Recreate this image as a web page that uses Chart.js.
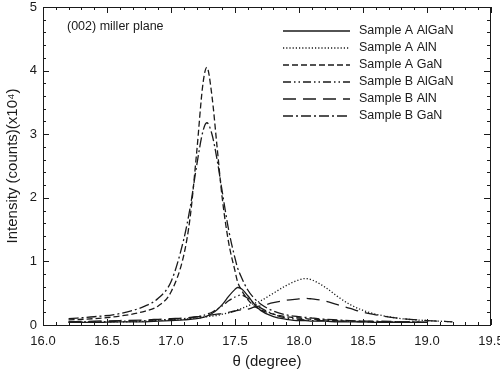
<!DOCTYPE html>
<html>
<head>
<meta charset="utf-8">
<script src="https://cdn.jsdelivr.net/npm/chart.js@4.4.1/dist/chart.umd.min.js"></script>
<style>
  html, body { margin: 0; padding: 0; background: #fff; }
  #wrap { width: 500px; height: 377px; }
</style>
</head>
<body>
<div id="wrap"><canvas id="chart"></canvas></div>
<script>
// theta grid (degree) shared by all series
const theta = [16.2, 16.4, 16.6, 16.8, 16.9, 17.0, 17.1, 17.15, 17.2, 17.25, 17.28, 17.32, 17.36, 17.4, 17.45, 17.5, 17.52, 17.55, 17.6, 17.65, 17.7, 17.8, 17.9, 18.0, 18.05, 18.1, 18.2, 18.3, 18.4, 18.5, 18.6, 18.8, 19.0, 19.2];

// intensity (x10^4 counts)
const sampleA_AlGaN = [0.04, 0.04, 0.05, 0.05, 0.06, 0.07, 0.08, 0.09, 0.1, 0.12, 0.14, 0.18, 0.24, 0.32, 0.45, 0.56, 0.59, 0.57, 0.46, 0.33, 0.23, 0.13, 0.09, 0.07, 0.07, 0.06, 0.06, 0.05, 0.05, 0.05, 0.04, 0.04, 0.04, null];
const sampleA_AlN = [0.04, 0.05, 0.05, 0.06, 0.07, 0.08, 0.09, 0.1, 0.11, 0.12, 0.13, 0.14, 0.15, 0.17, 0.19, 0.22, 0.24, 0.26, 0.3, 0.34, 0.38, 0.5, 0.62, 0.71, 0.73, 0.71, 0.6, 0.45, 0.32, 0.23, 0.17, 0.1, 0.07, 0.05];
const sampleA_GaN = [0.08, 0.1, 0.14, 0.22, 0.3, 0.52, 1.1, 1.7, 2.7, 3.8, 4.05, 3.6, 2.8, 2.0, 1.3, 0.85, 0.68, 0.55, 0.4, 0.3, 0.24, 0.17, 0.13, 0.11, 0.1, 0.09, 0.08, 0.07, 0.06, 0.06, 0.05, 0.05, 0.04, null];
const sampleB_AlGaN = [0.05, 0.05, 0.06, 0.07, 0.08, 0.09, 0.1, 0.11, 0.13, 0.15, 0.17, 0.2, 0.25, 0.3, 0.38, 0.44, 0.46, 0.47, 0.42, 0.34, 0.27, 0.17, 0.11, 0.09, 0.08, 0.07, 0.07, 0.06, 0.06, 0.05, 0.05, 0.05, 0.04, null];
const sampleB_AlN = [0.05, 0.06, 0.07, 0.08, 0.09, 0.1, 0.11, 0.12, 0.13, 0.14, 0.15, 0.16, 0.17, 0.18, 0.2, 0.22, 0.23, 0.24, 0.25, 0.28, 0.3, 0.35, 0.39, 0.41, 0.42, 0.41, 0.38, 0.32, 0.26, 0.2, 0.16, 0.1, 0.07, 0.05];
const sampleB_GaN = [0.1, 0.13, 0.18, 0.3, 0.42, 0.68, 1.35, 1.85, 2.5, 3.05, 3.18, 3.0, 2.6, 2.1, 1.5, 1.05, 0.9, 0.75, 0.55, 0.42, 0.33, 0.22, 0.16, 0.13, 0.12, 0.11, 0.09, 0.08, 0.07, 0.06, 0.06, 0.05, 0.04, null];

const seriesNames = ["Sample A AlGaN", "Sample A AlN", "Sample A GaN", "Sample B AlGaN", "Sample B AlN", "Sample B GaN"];
const seriesValues = [sampleA_AlGaN, sampleA_AlN, sampleA_GaN, sampleB_AlGaN, sampleB_AlN, sampleB_GaN];
const dashes = [[], [1.2, 2], [6, 3], [8, 3, 1.5, 3, 1.5, 3], [13, 7], [10, 3, 2, 3]];

const ink = "#1a1a1a";

const datasets = seriesNames.map((name, i) => ({
  label: name,
  data: theta.map((t, j) => ({ x: t, y: seriesValues[i][j] })),
  borderColor: ink,
  borderWidth: 1.3,
  borderDash: dashes[i],
  pointRadius: 0,
  fill: false,
  cubicInterpolationMode: "monotone",
}));

// frame, inward ticks, note and legend
const decor = {
  id: "decor",
  afterDraw(chart) {
    const { ctx, chartArea: a, scales } = chart;
    const x = scales.x, y = scales.y;
    ctx.save();
    ctx.strokeStyle = ink;
    ctx.lineWidth = 1;
    ctx.setLineDash([]);
    ctx.strokeRect(a.left + 0.5, a.top + 0.5, a.right - a.left - 1, a.bottom - a.top);

    ctx.beginPath();
    for (let k = 0; k <= 35; k++) {
      const v = 16 + k * 0.1;
      const px = Math.round(x.getPixelForValue(v)) + 0.5;
      const len = k % 5 === 0 ? 6 : 3;
      ctx.moveTo(px, a.bottom); ctx.lineTo(px, a.bottom - len);
      ctx.moveTo(px, a.top); ctx.lineTo(px, a.top + len);
    }
    for (let k = 0; k <= 25; k++) {
      const v = k * 0.2;
      const py = Math.round(y.getPixelForValue(v)) + 0.5;
      const len = k % 5 === 0 ? 6 : 3;
      ctx.moveTo(a.left, py); ctx.lineTo(a.left + len, py);
      ctx.moveTo(a.right - 1, py); ctx.lineTo(a.right - 1 - len, py);
    }
    ctx.stroke();

    ctx.fillStyle = ink;
    ctx.font = "12.5px 'Liberation Sans', Arial, sans-serif";
    ctx.textBaseline = "middle";
    ctx.fillText("(002) miller plane", a.left + 24, a.top + 20);

    chart.data.datasets.forEach((ds, i) => {
      const ly = a.top + 24 + i * 17;
      ctx.beginPath();
      ctx.setLineDash(ds.borderDash);
      ctx.lineWidth = 1.3;
      ctx.moveTo(a.left + 240, ly);
      ctx.lineTo(a.left + 307, ly);
      ctx.stroke();
      ctx.setLineDash([]);
      ctx.fillText(ds.label, a.left + 316, ly);
    });
    ctx.restore();
  },
};

new Chart(document.getElementById("chart"), {
  type: "line",
  data: { datasets },
  plugins: [decor],
  options: {
    responsive: true,
    maintainAspectRatio: false,
    animation: false,
    layout: { padding: { top: 7, right: 9, left: 0, bottom: 0 } },
    plugins: { legend: { display: false }, tooltip: { enabled: false } },
    scales: {
      x: {
        type: "linear",
        min: 16,
        max: 19.5,
        afterFit: (s) => { s.height = 52; s.paddingLeft = 0; s.paddingRight = 0; },
        grid: { display: false, drawTicks: false },
        border: { display: false },
        ticks: {
          stepSize: 0.5,
          padding: 9,
          color: ink,
          font: { size: 13, family: "'Liberation Sans', Arial, sans-serif" },
          callback: (v) => v.toFixed(1),
        },
        title: {
          display: true,
          text: "θ (degree)",
          color: ink,
          padding: { top: 0, bottom: 6 },
          font: { size: 15, family: "'Liberation Sans', Arial, sans-serif" },
        },
      },
      y: {
        min: 0,
        max: 5,
        afterFit: (s) => { s.width = 43; s.paddingTop = 0; s.paddingBottom = 0; },
        grid: { display: false, drawTicks: false },
        border: { display: false },
        ticks: {
          stepSize: 1,
          padding: 6,
          color: ink,
          font: { size: 13, family: "'Liberation Sans', Arial, sans-serif" },
        },
        title: {
          display: true,
          text: "Intensity (counts)(x10⁴)",
          color: ink,
          padding: { top: 4, bottom: 0 },
          font: { size: 15, family: "'Liberation Sans', Arial, sans-serif" },
        },
      },
    },
  },
});
</script>
</body>
</html>
